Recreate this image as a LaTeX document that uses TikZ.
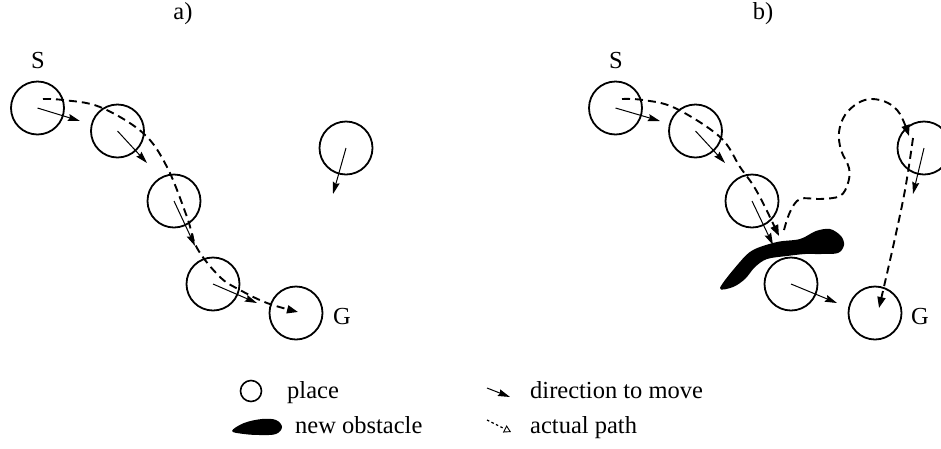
\documentclass[tikz,border=0pt]{standalone}
\usepackage{fontspec}
\setmainfont{Liberation Serif}
\usetikzlibrary{arrows.meta}
\begin{document}
\begin{tikzpicture}[x=1pt,y=-1pt,
  place/.style={circle,draw,line width=1.8pt,minimum size=53pt,inner sep=0pt},
  dirarrow/.style={line width=1pt,-{Stealth[length=12pt,width=7pt,inset=1.5pt]}},
  pathline/.style={line width=1.9pt,dash pattern=on 8pt off 5pt,-{Triangle[length=11pt,width=8pt]}},
  lbl/.style={font=\fontsize{24.5}{29}\selectfont,inner sep=0pt}]
\useasboundingbox (0,0) rectangle (941,448);
\clip (0,0) rectangle (941,448);
% titles
\node[lbl] (ta) at (183,14) {a)};
\node[lbl] (tb) at (763,14) {b)};
% ---------- panel a ----------
\node[place] (a1) at (37.5,108) {};
\node[place] (a2) at (117.5,131) {};
\node[place] (a3) at (174,201) {};
\node[place] (a4) at (213,284) {};
\node[place] (a5) at (296,313) {};
\node[place] (a6) at (346,148) {};
\node[lbl] (sa) at (38,61) {S};
\node[lbl] (ga) at (342,316) {G};
\coordinate (a1e) at (80,121);
\coordinate (a2e) at (147,163);
\coordinate (a3e) at (195,246);
\coordinate (a4e) at (257,303);
\coordinate (a6e) at (333,194);
\draw[dirarrow] (a1.center) -- (a1e);
\draw[dirarrow] (a2.center) -- (a2e);
\draw[dirarrow] (a3.center) -- (a3e);
\draw[dirarrow] (a4.center) -- (a4e);
\draw[dirarrow] (a6.center) -- (a6e);
\draw[pathline] plot[smooth,tension=0.6] coordinates {(43,99) (63,100) (100,107) (143,133) (167,167) (187,217) (197,248) (220,277) (240,290) (267,303) (298,312)};
% ---------- panel b ----------
\node[place] (b1) at (615.5,108) {};
\node[place] (b2) at (695.5,131) {};
\node[place] (b3) at (752,201) {};
\node[place] (b4) at (791,284) {};
\node[place] (b5) at (875,313) {};
\node[place] (b6) at (924,148) {};
\node[lbl] (sb) at (616,61) {S};
\node[lbl] (gb) at (920,316) {G};
\coordinate (b1e) at (660,121);
\coordinate (b2e) at (725,163);
\coordinate (b3e) at (773,245);
\coordinate (b4e) at (837,303);
\coordinate (b6e) at (913,194);
\fill plot[smooth cycle,tension=0.55] coordinates {(720,288) (739,263) (753,250) (777,242) (800,239) (816,231) (830,229) (841,236) (844,245) (838,253) (820,254) (805,254) (787,256) (767,259) (755,267) (745,279) (733,287)};
\draw[dirarrow] (b1.center) -- (b1e);
\draw[dirarrow] (b2.center) -- (b2e);
\draw[dirarrow] (b3.center) -- (b3e);
\draw[dirarrow] (b4.center) -- (b4e);
\draw[dirarrow] (b6.center) -- (b6e);
\draw[pathline] plot[smooth,tension=0.6] coordinates {(622,99) (643,100) (675,108) (720,137) (740,167) (753,185) (764,205) (779,236)};
\draw[pathline] plot[smooth,tension=0.6] coordinates {(784,230) (790,212) (800,199) (820,199) (840,196) (848,183) (849,168) (841,150) (839,132) (845,115) (858,103) (872,99) (888,103) (900,114) (909,136)};
\draw[pathline] plot[smooth,tension=0.6] coordinates {(913,138) (905,190) (893,247) (879,308)};
% ---------- legend ----------
\node[place,minimum size=21pt,line width=1.6pt] (lc) at (251,391) {};
\node[lbl,anchor=base west] (tplace) at (287,398) {place};
\fill plot[smooth cycle,tension=0.6] coordinates {(232,431) (244,423) (262,419) (276,420) (282,427) (276,434) (260,435) (244,434)};
\node[lbl,anchor=base west] (tobs) at (295,433) {new obstacle};
\coordinate (ld1) at (487,388);
\coordinate (ld2) at (510,397);
\draw[dirarrow] (ld1) -- (ld2);
\node[lbl,anchor=base west] (tdir) at (530,398) {direction to move};
\coordinate (lp1) at (487,420);
\coordinate (lp2) at (511,432);
\draw[line width=1.3pt,dash pattern=on 2.5pt off 2.5pt,-{Triangle[open,length=7pt,width=8pt,line width=0.9pt]}] (lp1) -- (lp2);
\node[lbl,anchor=base west] (tpath) at (530,433) {actual path};
\end{tikzpicture}
\end{document}
